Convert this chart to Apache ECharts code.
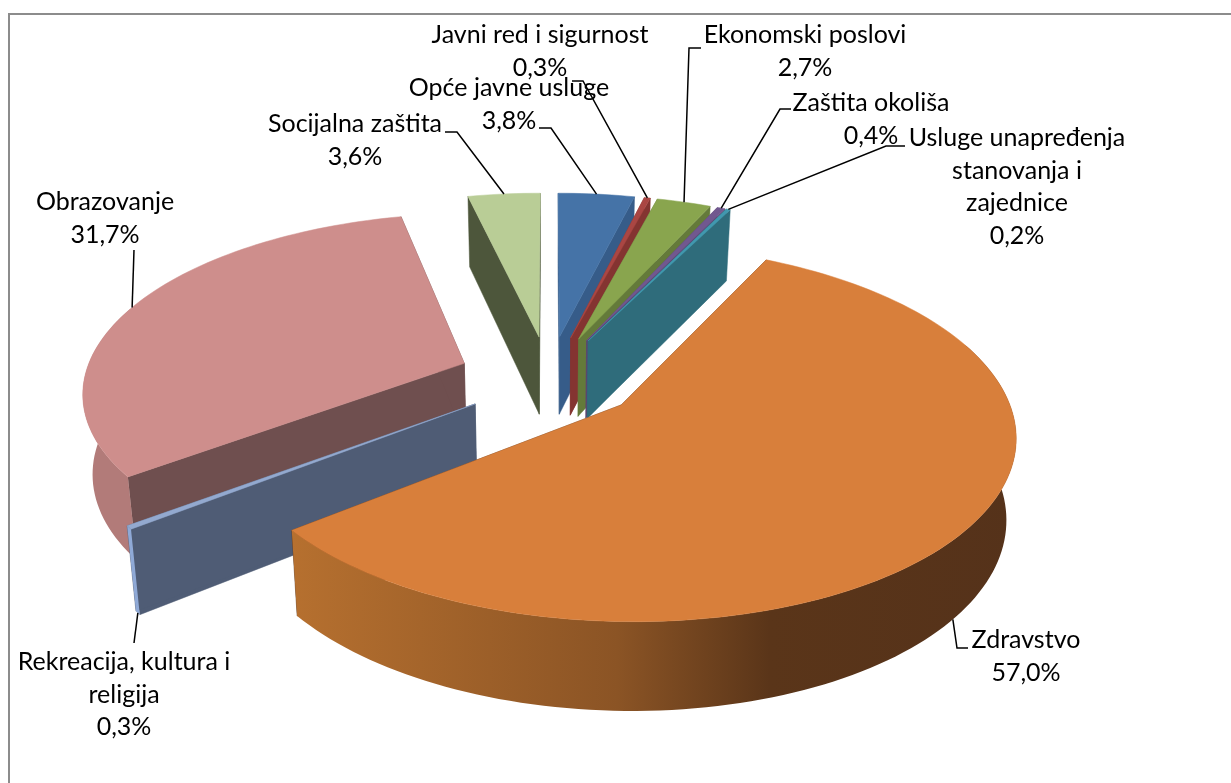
<!DOCTYPE html>
<html><head><meta charset="utf-8">
<style>html,body{margin:0;padding:0;background:#fff}#c{width:1231px;height:783px}</style>
<script src="https://cdn.jsdelivr.net/npm/echarts@6/dist/echarts.min.js"></script>
</head><body><div id="c"></div>
<script>
// Data, clockwise from 12 o'clock
const categories = ['Opće javne usluge','Javni red i sigurnost','Ekonomski poslovi','Zaštita okoliša','Usluge unapređenja\nstanovanja i\nzajednice','Zdravstvo','Rekreacija, kultura i\nreligija','Obrazovanje','Socijalna zaštita'];
const shares = [3.8,0.3,2.7,0.4,0.2,57.0,0.3,31.7,3.6];
// Styles
const topColors = ['#4573A7','#AA4643','#89A54E','#71588F','#4198AF','#D87F3B','#93A9CF','#CE8E8C','#B9CD96'];
const wallColors = ['#365C89','#843431','#647A3A','#5A4670','#2F6C7B','#57331A','#4F5C75','#6F4F4F','#4D563B'];
const rimColors = ['#365C89','#843431','#647A3A','#5A4670','#4198AF','GRAD','#8FA9D6','#B27B79','#4D563B'];
// Paint order: far fan first, near big slices last
const paintOrder = [8,0,1,2,3,4,7,6,5];
// Label layout: label centre x, first line y, leader knee points, leader from bottom of wall?
const labelX = [509,540,805,871,1017,1026,124,105,355];
const labelY = [88,35,35,103,138,640,662,202,124];
const leaderKnees = [[[551,128],[539,128]],[[583,81],[572,81]],[[689,48],[701,48]],[[780,109],[791,109]],[[886,146],[905,146]],[[957,648],[968,648]],[[134,643]],[[134,250]],[[457,132],[445,132]]];
const leaderOnBase = [0,0,0,0,0,1,1,0,0];
// Projection
const CX=549,CY=377.6,RX=380,RY=176,PERSP=0.147,HEIGHT=79,HEIGHT_P=0.1,EXPLODE=0.24,CONVERGE=0.021,FONT=25,LINE=32.5;
const rad=d=>d*Math.PI/180;
const total=shares.reduce((a,b)=>a+b,0);
const starts=[];shares.reduce((a,v,i)=>{starts[i]=a;return a+v/total*360;},0);
function project(X,Y,base){
  const s=1/(1+PERSP*Y);
  let x=CX+RX*X*s,y=CY-RY*Y*s;
  if(base){x=CX+(x-CX)*(1-CONVERGE);y+=HEIGHT/(1+HEIGHT_P*Y);}
  return [x,y];
}
function sliceGeom(i){
  const a0=starts[i],a1=a0+shares[i]/total*360,m=(a0+a1)/2;
  const ox=EXPLODE*Math.sin(rad(m)),oy=EXPLODE*Math.cos(rad(m));
  const rim=a=>[ox+Math.sin(rad(a)),oy+Math.cos(rad(a))];
  return {a0,a1,m,ox,oy,rim};
}
function poly(points,fill,z2){return {type:'polygon',z2,shape:{points},style:{fill,stroke:fill,lineWidth:0.5}};}
function renderSlice(params,api){
  const i=api.value(0),g=sliceGeom(i),kids=[];
  const z=paintOrder.indexOf(i)*10;
  const apexT=project(g.ox,g.oy,false),apexB=project(g.ox,g.oy,true);
  const pts=[],n=Math.max(2,Math.ceil((g.a1-g.a0)/1.5));
  for(let k=0;k<=n;k++){pts.push(g.a0+(g.a1-g.a0)*k/n);}
  const T=pts.map(a=>{const r=g.rim(a);return project(r[0],r[1],false);});
  const B=pts.map(a=>{const r=g.rim(a);return project(r[0],r[1],true);});
  // radial faces
  kids.push(poly([apexT,T[0],B[0],apexB],wallColors[i],z));
  kids.push(poly([apexT,T[n],B[n],apexB],wallColors[i],z));
  // outer wall, only the near arc
  const idx=pts.map((a,k)=>k).filter(k=>pts[k]>=70&&pts[k]<=290);
  if(idx.length>1){
    const up=idx.map(k=>T[k]),dn=idx.map(k=>B[k]).reverse();
    const fill=rimColors[i]==='GRAD'?new echarts.graphic.LinearGradient(0,0,1,0,[{offset:0,color:'#B6702F'},{offset:0.45,color:'#8B5425'},{offset:0.66,color:'#5A3519'},{offset:1,color:'#55321A'}]):rimColors[i];
    kids.push({type:'polygon',z2:z+1,shape:{points:up.concat(dn)},style:{fill}});
  }
  kids.push(poly([apexT].concat(T),topColors[i],z+2));
  return {type:'group',children:kids};
}
function pct(v){return v.toFixed(1).replace('.',',')+'%';}
function renderLabel(params,api){
  const i=api.value(0),g=sliceGeom(i);
  const r=g.rim(g.m),a=project(r[0],r[1],!!leaderOnBase[i]);
  const lines=categories[i].split('\n').concat([pct(shares[i])]);
  return {type:'group',children:lines.map((t,k)=>({type:'text',z2:1,style:{text:t,x:labelX[i],y:labelY[i]+k*LINE,align:'center',verticalAlign:'middle',fill:'#000',font:FONT+'px Lato'}})).concat([
    {type:'polyline',z2:2,shape:{points:[a].concat(leaderKnees[i])},style:{stroke:'#000',lineWidth:1.5,fill:null}}])};
}
const chart=echarts.init(document.getElementById('c'),null,{renderer:'canvas'});
const order=paintOrder.map(i=>[i]);
chart.setOption({
  animation:false,backgroundColor:'#fff',
  graphic:[{type:'polyline',silent:true,shape:{points:[[9,783],[9,14],[1231,14]]},style:{stroke:'#8C8C8C',lineWidth:2,fill:null}}],
  series:[
    {type:'custom',coordinateSystem:'none',silent:true,data:order,renderItem:renderSlice,clip:false},
    {type:'custom',coordinateSystem:'none',silent:true,data:order,renderItem:renderLabel,clip:false,z:5}
  ]
});
</script></body></html>
